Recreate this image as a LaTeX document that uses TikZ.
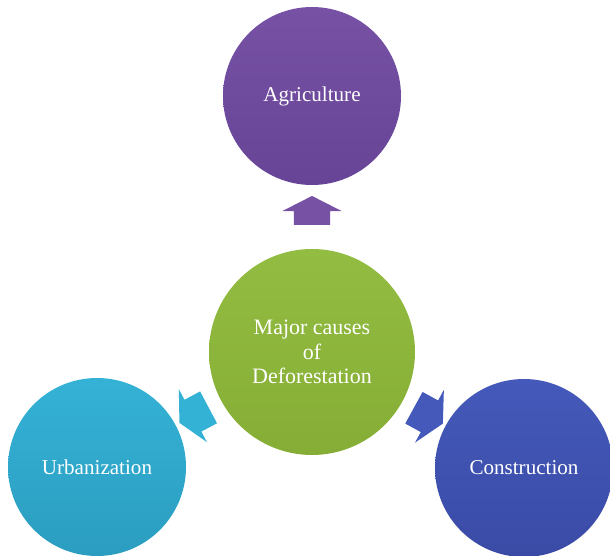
\documentclass[tikz,border=0pt]{standalone}
\usepackage{fontspec}
\setmainfont{Liberation Serif}
\usepackage{tikz}
\usetikzlibrary{shapes.arrows,calc}

\definecolor{agri}{HTML}{7752A4}
\definecolor{agridark}{HTML}{674496}
\definecolor{major}{HTML}{93BC42}
\definecolor{majordark}{HTML}{86AE36}
\definecolor{urban}{HTML}{34B2D6}
\definecolor{urbandark}{HTML}{2B9DC0}
\definecolor{build}{HTML}{4459BA}
\definecolor{builddark}{HTML}{3A4BA6}

\begin{document}
\begin{tikzpicture}[x=1cm,y=1cm,semithick]
  \tikzstyle{cause}=[circle,draw=none,text=white,align=center,minimum size=3.56cm,
                     font=\fontsize{12}{13.6}\selectfont]
  \tikzstyle{blockarrow}=[single arrow,draw=none,minimum height=0.58cm,inner xsep=0pt,
                     inner ysep=0.35cm,single arrow head extend=0.24cm,single arrow tip angle=126]

  \useasboundingbox (0,0) rectangle (12.2,-11.12);

  \node[cause,minimum size=4.12cm,top color=major,bottom color=majordark,
        font=\fontsize{12.5}{14}\selectfont] (M) at (6.24,-7.04) {Major causes\\of\\Deforestation};
  \node[cause,top color=agri,bottom color=agridark]   (A) at (6.24,-1.92) {Agriculture};
  \node[cause,top color=urban,bottom color=urbandark] (U) at (1.94,-9.34) {Urbanization};
  \node[cause,top color=build,bottom color=builddark] (C) at (10.48,-9.36) {Construction};

  \node[blockarrow,fill=agri,rotate=90]     (MA) at ($(M)!0.535!(A)$) {};
  \node[blockarrow,fill=urban,rotate=208,minimum height=0.66cm]   (MU) at ($(M)!0.53!(U)$) {};
  \node[blockarrow,fill=build,rotate=-28.7,minimum height=0.66cm] (MC) at ($(M)!0.53!(C)$) {};
\end{tikzpicture}
\end{document}
